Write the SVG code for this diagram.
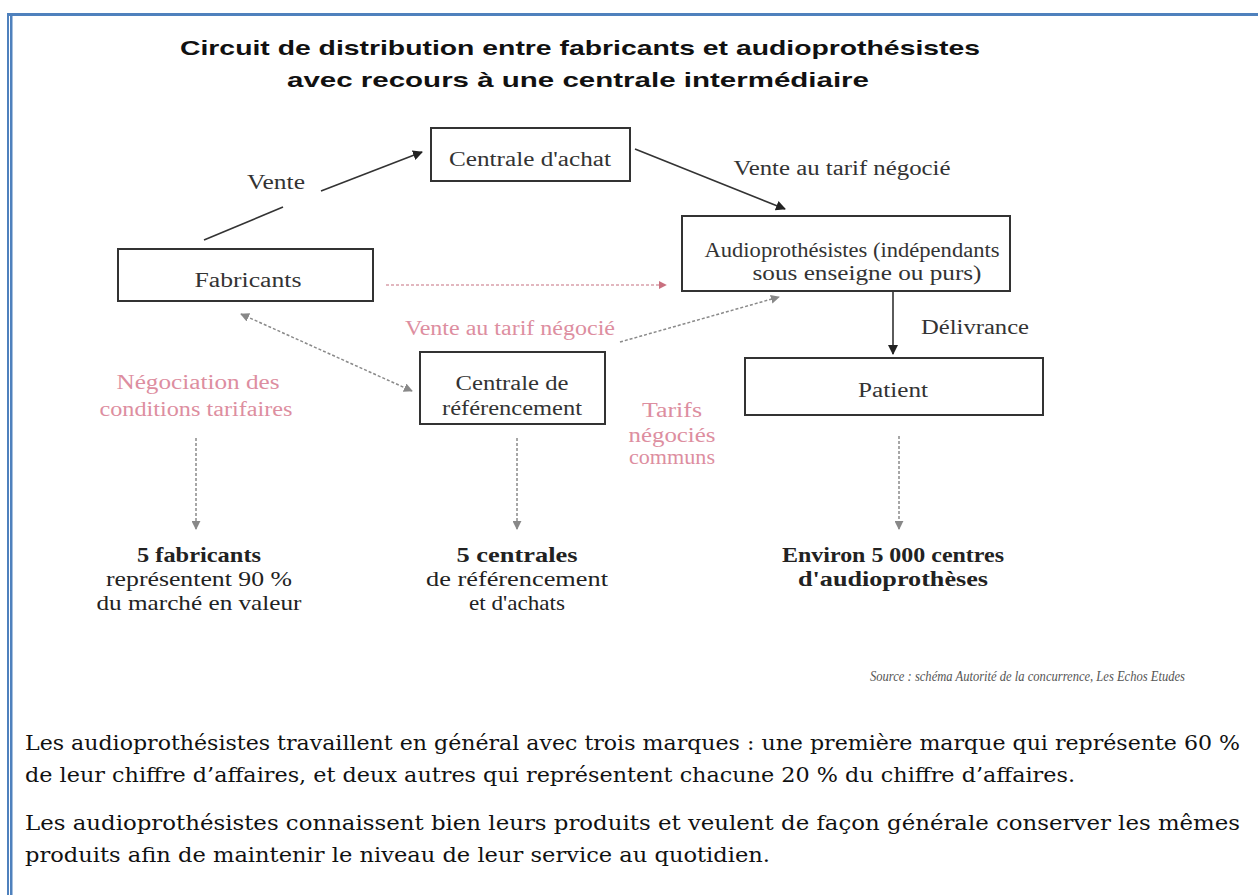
<svg xmlns="http://www.w3.org/2000/svg" width="1258" height="895" viewBox="0 0 1258 895">
<style>
.box{fill:#fff;stroke:#333;stroke-width:2}
.t{font-family:"Liberation Serif",serif;font-size:20px;fill:#333;text-anchor:middle}
.pk{font-family:"Liberation Serif",serif;font-size:20px;fill:#dd8ea0;text-anchor:middle}
.b{font-family:"Liberation Serif",serif;font-size:21px;font-weight:bold;fill:#222;text-anchor:middle}
.n{font-family:"Liberation Serif",serif;font-size:21px;fill:#222;text-anchor:middle}
.title{font-family:"Liberation Sans",Arial,sans-serif;font-size:21px;font-weight:bold;fill:#111;text-anchor:middle}
.p{font-family:"DejaVu Serif",serif;font-size:20px;fill:#111}
.solid{stroke:#333;stroke-width:1.6;fill:none}
.gdash{stroke:#8a8a8a;stroke-width:1.5;fill:none;stroke-dasharray:3 2}
.pdash{stroke:#d9a0ab;stroke-width:1.5;fill:none;stroke-dasharray:3 2}
</style>
<defs>
<marker id="ab" viewBox="0 0 10 10" refX="9" refY="5" markerWidth="10" markerHeight="10" orient="auto" markerUnits="userSpaceOnUse"><path d="M0,0 L10,5 L0,10 z" fill="#222"/></marker>
<marker id="ag" viewBox="0 0 10 10" refX="9" refY="5" markerWidth="9" markerHeight="9" orient="auto-start-reverse" markerUnits="userSpaceOnUse"><path d="M0,0 L10,5 L0,10 z" fill="#888"/></marker>
<marker id="ap" viewBox="0 0 10 10" refX="9" refY="5" markerWidth="8" markerHeight="8" orient="auto" markerUnits="userSpaceOnUse"><path d="M0,0 L10,5 L0,10 z" fill="#c9707f"/></marker>
</defs>
<rect width="1258" height="895" fill="#fff"/>
<g id="frame">
<rect x="7" y="13" width="1251" height="3" fill="#4f81bd"/>
<rect x="7" y="13" width="2" height="882" fill="#4f81bd"/>
<rect x="10" y="13" width="2.5" height="882" fill="#4f81bd"/>
</g>
<g id="title">
<text class="title" x="580" y="55" textLength="800" lengthAdjust="spacingAndGlyphs">Circuit de distribution entre fabricants et audioprothésistes</text>
<text class="title" x="578" y="87" textLength="582" lengthAdjust="spacingAndGlyphs">avec recours à une centrale intermédiaire</text>
</g>
<g id="connectors">
<line class="solid" x1="204" y1="240" x2="283" y2="207"/>
<line class="solid" x1="321" y1="191" x2="422" y2="152" marker-end="url(#ab)"/>
<line class="solid" x1="635" y1="149" x2="785" y2="209" marker-end="url(#ab)"/>
<line class="pdash" x1="386" y1="285" x2="666" y2="285" marker-end="url(#ap)"/>
<line class="gdash" x1="241" y1="314" x2="412" y2="391" marker-start="url(#ag)" marker-end="url(#ag)"/>
<line class="gdash" x1="620" y1="342" x2="779" y2="297" marker-end="url(#ag)"/>
<line class="solid" x1="893" y1="291" x2="893" y2="354" marker-end="url(#ab)"/>
<line class="gdash" x1="196" y1="438" x2="196" y2="529" marker-end="url(#ag)"/>
<line class="gdash" x1="517" y1="438" x2="517" y2="529" marker-end="url(#ag)"/>
<line class="gdash" x1="899" y1="436" x2="899" y2="529" marker-end="url(#ag)"/>
</g>
<g id="labels">
<text class="t" x="276" y="189" textLength="58" lengthAdjust="spacingAndGlyphs">Vente</text>
<text class="t" x="842" y="175" textLength="217" lengthAdjust="spacingAndGlyphs">Vente au tarif négocié</text>
<text class="pk" x="510" y="335" textLength="210" lengthAdjust="spacingAndGlyphs">Vente au tarif négocié</text>
<text class="t" x="975" y="334" textLength="108" lengthAdjust="spacingAndGlyphs">Délivrance</text>
<text class="pk" x="198" y="389" textLength="163" lengthAdjust="spacingAndGlyphs">Négociation des</text>
<text class="pk" x="196" y="416" textLength="193" lengthAdjust="spacingAndGlyphs">conditions tarifaires</text>
<text class="pk" x="672" y="417" textLength="60" lengthAdjust="spacingAndGlyphs">Tarifs</text>
<text class="pk" x="672" y="442" textLength="87" lengthAdjust="spacingAndGlyphs">négociés</text>
<text class="pk" x="672" y="464" textLength="86" lengthAdjust="spacingAndGlyphs">communs</text>
</g>
<g id="n-centrale-achat">
<rect class="box" x="431" y="128" width="199" height="53"/>
<text class="t" x="530" y="166" textLength="162" lengthAdjust="spacingAndGlyphs">Centrale d'achat</text>
</g>
<g id="n-fabricants">
<rect class="box" x="118" y="249" width="255" height="52"/>
<text class="t" x="248" y="287" textLength="107" lengthAdjust="spacingAndGlyphs">Fabricants</text>
</g>
<g id="n-audio">
<rect class="box" x="682" y="216" width="328" height="75"/>
<text class="t" x="852" y="257" textLength="295" lengthAdjust="spacingAndGlyphs">Audioprothésistes (indépendants</text>
<text class="t" x="867" y="280" textLength="229" lengthAdjust="spacingAndGlyphs">sous enseigne ou purs)</text>
</g>
<g id="n-centrale-ref">
<rect class="box" x="420" y="352" width="185" height="72"/>
<text class="t" x="512" y="390" textLength="113" lengthAdjust="spacingAndGlyphs">Centrale de</text>
<text class="t" x="512" y="415" textLength="140" lengthAdjust="spacingAndGlyphs">référencement</text>
</g>
<g id="n-patient">
<rect class="box" x="745" y="358" width="298" height="57"/>
<text class="t" x="893" y="397" textLength="70" lengthAdjust="spacingAndGlyphs">Patient</text>
</g>
<g id="stats">
<text class="b" x="199" y="562" textLength="124" lengthAdjust="spacingAndGlyphs">5 fabricants</text>
<text class="n" x="199" y="586" textLength="186" lengthAdjust="spacingAndGlyphs">représentent 90 %</text>
<text class="n" x="199" y="610" textLength="205" lengthAdjust="spacingAndGlyphs">du marché en valeur</text>
<text class="b" x="517" y="562" textLength="121" lengthAdjust="spacingAndGlyphs">5 centrales</text>
<text class="n" x="517" y="586" textLength="182" lengthAdjust="spacingAndGlyphs">de référencement</text>
<text class="n" x="517" y="610" textLength="96" lengthAdjust="spacingAndGlyphs">et d'achats</text>
<text class="b" x="893" y="562" textLength="222" lengthAdjust="spacingAndGlyphs">Environ 5 000 centres</text>
<text class="b" x="893" y="586" textLength="190" lengthAdjust="spacingAndGlyphs">d'audioprothèses</text>
</g>
<text x="1185" y="681" text-anchor="end" font-family="Liberation Serif,serif" font-style="italic" font-size="14" fill="#555" textLength="315" lengthAdjust="spacingAndGlyphs">Source : schéma Autorité de la concurrence, Les Echos Etudes</text>
<g id="body">
<text class="p" x="25" y="750" textLength="1215" lengthAdjust="spacingAndGlyphs">Les audioprothésistes travaillent en général avec trois marques : une première marque qui représente 60 %</text>
<text class="p" x="25" y="782" textLength="1050" lengthAdjust="spacingAndGlyphs">de leur chiffre d’affaires, et deux autres qui représentent chacune 20 % du chiffre d’affaires.</text>
<text class="p" x="25" y="830" textLength="1215" lengthAdjust="spacingAndGlyphs">Les audioprothésistes connaissent bien leurs produits et veulent de façon générale conserver les mêmes</text>
<text class="p" x="25" y="862" textLength="745" lengthAdjust="spacingAndGlyphs">produits afin de maintenir le niveau de leur service au quotidien.</text>
</g>
</svg>
